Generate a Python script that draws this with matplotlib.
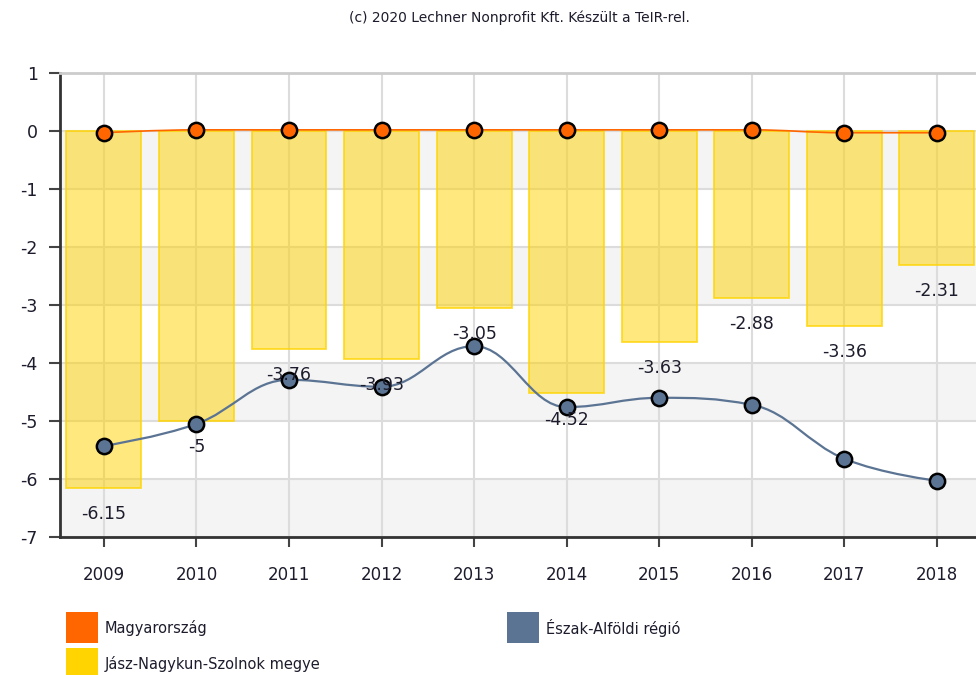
"""Jász-Nagykun-Szolnok megye: oszlop + spline vonal (TeIR stílus)."""

import matplotlib

matplotlib.use("Agg")

import matplotlib.pyplot as plt
from matplotlib.path import Path
from matplotlib.patches import PathPatch, Rectangle

plt.rcParams["axes.unicode_minus"] = False

# Adatok
years = ["2009", "2010", "2011", "2012", "2013", "2014", "2015", "2016", "2017", "2018"]
megye = [-6.15, -5.0, -3.76, -3.93, -3.05, -4.52, -3.63, -2.88, -3.36, -2.31]
regio = [-5.43, -5.05, -4.29, -4.41, -3.71, -4.76, -4.60, -4.72, -5.65, -6.03]
orszag = [-0.03, 0.02, 0.02, 0.02, 0.02, 0.02, 0.02, 0.02, -0.03, -0.03]

series_names = ["Magyarország", "Észak-Alföldi régió", "Jász-Nagykun-Szolnok megye"]
title_text = "(c) 2020 Lechner Nonprofit Kft. Készült a TeIR-rel."

ORANGE = "#ff6600"
BLUE = "#5b7493"
YELLOW = "#ffd400"
TEXT = "#1c1c2c"


def spline_path(xs, ys, smoothing=1.5):
    """Highcharts-szerű spline Bezier path a pontokon át."""
    n = len(xs)
    verts = [(xs[0], ys[0])]
    codes = [Path.MOVETO]
    conts = []
    for i in range(n):
        x, y = xs[i], ys[i]
        if i == 0 or i == n - 1:
            conts.append(((x, y), (x, y)))
            continue
        lx, ly = xs[i - 1], ys[i - 1]
        nx, ny = xs[i + 1], ys[i + 1]
        d = smoothing + 1
        lcx = (smoothing * x + lx) / d
        lcy = (smoothing * y + ly) / d
        rcx = (smoothing * x + nx) / d
        rcy = (smoothing * y + ny) / d
        if rcx != lcx:
            corr = (rcy - lcy) * (rcx - x) / (rcx - lcx) + y - rcy
            lcy += corr
            rcy += corr
        if lcy > ly and lcy > y:
            lcy = max(ly, y)
            rcy = 2 * y - lcy
        elif lcy < ly and lcy < y:
            lcy = min(ly, y)
            rcy = 2 * y - lcy
        if rcy > ny and rcy > y:
            rcy = max(ny, y)
            lcy = 2 * y - rcy
        elif rcy < ny and rcy < y:
            rcy = min(ny, y)
            lcy = 2 * y - rcy
        conts.append(((lcx, lcy), (rcx, rcy)))
    for i in range(1, n):
        verts += [conts[i - 1][1], conts[i][0], (xs[i], ys[i])]
        codes += [Path.CURVE4] * 3
    return Path(verts, codes)


fig = plt.figure(figsize=(9.76, 6.75), dpi=100)
ax = fig.add_axes([60 / 976, 138 / 675, 923 / 976, 464 / 675])

x = list(range(len(years)))
ax.set_xlim(-0.475, 9.5)
ax.set_ylim(-7, 1)

# sávos háttér
for lo in (-1, -3, -5, -7):
    ax.axhspan(lo, lo + 1, color="#f4f4f4", zorder=0, lw=0)
ax.grid(True, color="#dcdcdc", linewidth=1.5, zorder=0.5)
ax.set_axisbelow(True)

ax.bar(x, megye, width=0.81, color=YELLOW, alpha=0.5, zorder=2, linewidth=0)
ax.bar(x, megye, width=0.81, facecolor="none", edgecolor=YELLOW, linewidth=1.3,
       zorder=2.1, alpha=0.8)

for xi, v in zip(x, megye):
    ax.annotate(f"{v:g}", (xi, v), xytext=(0, -19), textcoords="offset points",
                ha="center", va="center", fontsize=12.5, color=TEXT, zorder=5)

# spline vonal (régió)
ax.add_patch(PathPatch(spline_path(x, regio), facecolor="none", edgecolor=BLUE,
                       linewidth=1.6, zorder=3))
ax.plot(x, regio, linestyle="none", marker="o", markersize=11, markerfacecolor=BLUE,
        markeredgecolor="black", markeredgewidth=1.8, zorder=4)

# ország
ax.add_patch(PathPatch(spline_path(x, orszag), facecolor="none", edgecolor=ORANGE,
                       linewidth=1.2, zorder=3))
ax.plot(x, orszag, linestyle="none", marker="o", markersize=11, markerfacecolor=ORANGE,
        markeredgecolor="black", markeredgewidth=1.8, zorder=4)

ax.set_xticks(x)
ax.set_xticklabels(years)
ax.set_yticks(range(-7, 2))
ax.tick_params(axis="y", length=8, width=1.5, color="#444444", pad=8,
               labelsize=12.5, labelcolor=TEXT)
ax.tick_params(axis="x", length=7, width=1.5, color="#444444", pad=14,
               labelsize=12, labelcolor=TEXT)
for side in ("left", "bottom"):
    ax.spines[side].set_color("#333333")
    ax.spines[side].set_linewidth(2)
ax.spines["top"].set_color("#cccccc")
ax.spines["top"].set_linewidth(2)
ax.spines["right"].set_visible(False)

fig.text(519 / 976, 1 - 18 / 675, title_text, ha="center", va="center",
         fontsize=10, color=TEXT)

# jelmagyarázat
legend_items = [
    (66, 612, ORANGE, series_names[0]),
    (507, 612, BLUE, series_names[1]),
    (66, 648, YELLOW, series_names[2]),
]
for px, py, col, name in legend_items:
    fig.patches.append(Rectangle((px / 976, 1 - (py + 31) / 675), 32 / 976, 31 / 675,
                                 transform=fig.transFigure, facecolor=col,
                                 edgecolor="none"))
    fig.text((px + 39) / 976, 1 - (py + 16) / 675, name, ha="left", va="center",
             fontsize=10.5, color=TEXT)

fig.savefig("out.png", dpi=100)
